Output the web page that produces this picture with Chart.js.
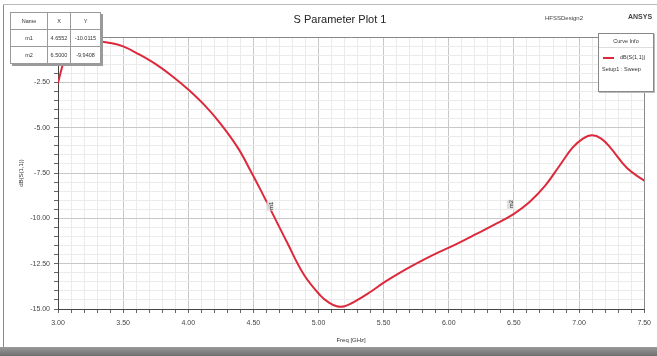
<!DOCTYPE html>
<html>
<head>
  <meta charset="utf-8" />
  <title>S Parameter Plot 1</title>
  <script src="https://cdn.jsdelivr.net/npm/chart.js"></script>
  <style>
    body { margin: 0; background: #fff; font-family: "Liberation Sans", Arial, sans-serif; }
    #wrap { position: relative; width: 657px; height: 356px; overflow: hidden; background: #fff; }
    #frameL { position: absolute; left: 3px; top: 4px; width: 1px; height: 343px; background: #8a8a8a; }
    #frameT { position: absolute; left: 3px; top: 4px; width: 654px; height: 1px; background: #b8b8b8; }
    #frameB { position: absolute; left: 0; top: 347px; width: 657px; height: 9px; background: linear-gradient(#9a9a9a, #6e6e6e); }
    #title { position: absolute; left: 0; width: 680px; top: 13px; text-align: center; font-size: 11px; color: #222; }
    #design { position: absolute; left: 545px; top: 15px; font-size: 6px; color: #444; }
    #ansys { position: absolute; left: 628px; top: 13px; font-size: 7px; color: #444; font-weight: bold; }
    #markers { position: absolute; left: 10px; top: 12px; border-collapse: collapse; background: #fff; table-layout: fixed;
      box-shadow: 2px 2px 0 #9a9a9a; font-size: 5.5px; color: #333; }
    #markers td { border: 1px solid #9a9a9a; height: 16px; text-align: center; padding: 0; overflow: hidden; }
    #legend { position: absolute; left: 598px; top: 33px; width: 54px; height: 57px; border: 1px solid #888;
      background: #fff; box-shadow: 1px 1px 0 #bbb; font-size: 5.5px; color: #333; }
  </style>
</head>

<body>
  <div id="wrap">
    <canvas id="sparam"></canvas>
    <div id="frameL"></div>
    <div id="frameT"></div>
    <div id="frameB"></div>
    <div id="title">S Parameter Plot 1</div>
    <div id="design">HFSSDesign2</div>
    <div id="ansys">ANSYS</div>
    <table id="markers"><colgroup><col style="width:37px"><col style="width:23px"><col style="width:30px"></colgroup><tbody id="markerRows"></tbody></table>
    <div id="legend">
      <div style="text-align:center; margin-top:4px; padding-bottom:3px; border-bottom:1px solid #ddd;">Curve Info</div>
      <div style="margin-top:6px; white-space:nowrap;">
        <span style="display:inline-block; width:11px; height:2px; background:#dc2a3c; vertical-align:middle; margin:0 6px 0 4px;"></span><span id="legName"></span>
      </div>
      <div style="margin-top:6px; margin-left:3px; white-space:nowrap;">Setup1 : Sweep</div>
    </div>
  </div>
</body>

<script>
  // curve
  const freqGHz = [3.00, 3.03, 3.06, 3.10, 3.18, 3.28, 3.40, 3.50, 3.62, 3.75, 3.875, 4.00, 4.13, 4.25,
    4.38, 4.48, 4.56, 4.655, 4.76, 4.887, 5.013, 5.08, 5.14, 5.20, 5.30, 5.40, 5.50, 5.60, 5.75,
    5.90, 6.05, 6.20, 6.35, 6.50, 6.62, 6.74, 6.85, 6.95, 7.03, 7.10, 7.17, 7.24, 7.37, 7.50];
  const s11dB = [-2.55, -1.7, -1.05, -0.6, -0.3, -0.22, -0.33, -0.52, -0.95, -1.5, -2.15, -2.9, -3.8, -4.8,
    -6.1, -7.4, -8.5, -9.85, -11.35, -13.1, -14.25, -14.65, -14.85, -14.85, -14.5, -14.05, -13.55, -13.1, -12.5,
    -11.95, -11.45, -10.9, -10.35, -9.75, -9.1, -8.2, -7.1, -6.1, -5.6, -5.42, -5.6, -6.1, -7.24, -7.92];

  const markerNames = ["m1", "m2"];
  const markerX = [4.655, 6.50];
  const markerY = [-9.85, -9.75];
  const markerTable = [["Name", "X", "Y"], ["m1", "4.6552", "-10.0115"], ["m2", "6.5000", "-9.9408"]];

  const curveName = "dB(S(1,1))";

  document.getElementById("legName").innerText = curveName;
  document.getElementById("markerRows").innerHTML = markerTable
    .map((row) => "<tr>" + row.map((c) => "<td>" + c + "</td>").join("") + "</tr>").join("");

  const isMajor = (v, step) => Math.abs(v / step - Math.round(v / step)) < 1e-6;
  const tickFont = { family: "Liberation Sans", size: 7 };

  const markerLabels = {
    id: "markerLabels",
    afterDatasetsDraw(chart) {
      const { ctx, scales } = chart;
      ctx.save();
      ctx.font = "6px 'Liberation Sans'";
      markerNames.forEach((name, i) => {
        const px = scales.x.getPixelForValue(markerX[i]);
        const py = scales.y.getPixelForValue(markerY[i]);
        ctx.save();
        ctx.translate(px - 1, py - 5);
        ctx.rotate(-Math.PI / 2);
        ctx.fillStyle = "rgba(220,220,220,0.9)";
        ctx.fillRect(0, -6, 9, 7);
        ctx.fillStyle = "#333";
        ctx.fillText(name, 0.5, 0);
        ctx.restore();
      });
      ctx.restore();
    },
  };

  new Chart(document.getElementById("sparam"), {
    type: "line",
    data: {
      datasets: [
        {
          label: curveName,
          data: freqGHz.map((f, i) => ({ x: f, y: s11dB[i] })),
          borderColor: "#dc2a3c",
          borderWidth: 2,
          pointRadius: 0,
          tension: 0.4,
        },
      ],
    },
    options: {
      responsive: true,
      maintainAspectRatio: false,
      animation: false,
      layout: { padding: { left: 3, top: 37, right: 6, bottom: 7 } },
      plugins: { legend: { display: false }, tooltip: { enabled: false } },
      scales: {
        x: {
          type: "linear",
          min: 3,
          max: 7.5,
          afterFit: (s) => { s.height = 40; },
          ticks: {
            stepSize: 0.1,
            autoSkip: false,
            maxRotation: 0,
            padding: 6,
            color: "#444",
            font: tickFont,
            callback: (v) => (isMajor(v, 0.5) ? v.toFixed(2) : ""),
          },
          grid: {
            color: (c) => (c.tick && c.tick.value > 7.45 ? "#888" : c.tick && isMajor(c.tick.value, 0.5) ? "#c8c8c8" : "#ebebeb"),
            tickLength: 4,
            tickColor: "#666",
          },
          border: { color: "#444", width: 1 },
          title: { display: true, text: "Freq [GHz]", color: "#333", font: { family: "Liberation Sans", size: 6 }, padding: { top: 0, bottom: 5 } },
        },
        y: {
          min: -15,
          max: 0,
          afterFit: (s) => { s.width = 55; },
          ticks: {
            stepSize: 0.5,
            autoSkip: false,
            padding: 4,
            color: "#444",
            font: tickFont,
            callback: (v) => (isMajor(v, 2.5) ? v.toFixed(2) : ""),
          },
          grid: {
            color: (c) => (c.tick && c.tick.value === 0 ? "#888" : c.tick && isMajor(c.tick.value, 2.5) ? "#c8c8c8" : "#ebebeb"),
            tickLength: 4,
            tickColor: "#666",
          },
          border: { color: "#444", width: 1 },
          title: { display: true, text: "dB(S(1,1))", color: "#333", font: { family: "Liberation Sans", size: 6 }, padding: { top: 15, bottom: 0 } },
        },
      },
    },
    plugins: [markerLabels],
  });
</script>
</html>
